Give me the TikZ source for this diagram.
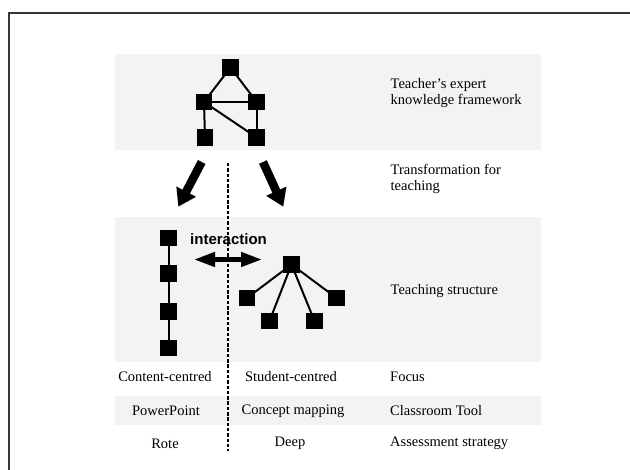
\documentclass[tikz,border=0pt]{standalone}
\usepackage{fontspec}
\setmainfont{Liberation Serif}
\newfontfamily\sansfam{Liberation Sans}
\usetikzlibrary{arrows.meta}
\definecolor{band}{RGB}{243,243,243}
\definecolor{framecol}{RGB}{55,55,55}
\begin{document}
\begin{tikzpicture}[x=1pt,y=-1pt,
  sq/.style={fill=black,minimum size=16.5pt,inner sep=0pt,outer sep=0pt},
  link/.style={line width=2pt},
  lbl/.style={font=\fontsize{14.5}{16}\selectfont,inner sep=0pt},
  lblw/.style={lbl,anchor=west,align=left},
  bigarrow/.style={line width=8.5pt,-{Triangle[width=21pt,length=17pt]}},
  dblarrow/.style={line width=4.5pt,{Triangle[width=14pt,length=21pt]}-{Triangle[width=14pt,length=21pt]}},
  divider/.style={line width=1.7pt,dash pattern=on 3.5pt off 1.8pt}]
\useasboundingbox (0,0) rectangle (630,470);
% bands
\fill[band] (115,54) rectangle (541,150);
\fill[band] (115,217) rectangle (541,362.5);
\fill[band] (115,396.5) rectangle (541,425);
% frame
\draw[framecol,line width=2pt] (9,472) -- (9,13) -- (632,13);
% top expert network
\node[sq] (t1) at (230.5,67.5) {};
\node[sq] (t2) at (204,102) {};
\node[sq] (t3) at (256.7,102) {};
\node[sq] (t4) at (205,137.5) {};
\node[sq] (t5) at (256.7,137.5) {};
\draw[link] (t1.center) -- (t2.center);
\draw[link] (t1.center) -- (t3.center);
\draw[link] (t2.center) -- (t3.center);
\draw[link] (t2.center) -- (t4.center);
\draw[link] (t3.center) -- (t5.center);
\draw[link] (t2.center) -- (t5.center);
\node[sq] at (t1) {};
\node[sq] at (t2) {};
\node[sq] at (t3) {};
\node[sq] at (t4) {};
\node[sq] at (t5) {};
% transformation arrows
\coordinate (la1) at (201.7,162);
\coordinate (la2) at (178.3,206.7);
\coordinate (ra1) at (263,162);
\coordinate (ra2) at (283.3,206.7);
\draw[bigarrow] (la1) -- (la2);
\draw[bigarrow] (ra1) -- (ra2);
% divider
\coordinate (d1) at (227.7,163);
\coordinate (d2) at (227.7,451);
\draw[divider] (d1) -- (d2);
% chain (content-centred)
\node[sq] (c1) at (168.5,238) {};
\node[sq] (c2) at (168.5,273.5) {};
\node[sq] (c3) at (168.5,311.5) {};
\node[sq] (c4) at (168.5,348) {};
\draw[link] (c1) -- (c2) -- (c3) -- (c4);
% tree (student-centred)
\node[sq] (r) at (291.5,264.5) {};
\node[sq] (k1) at (247,298) {};
\node[sq] (k2) at (269.5,321) {};
\node[sq] (k3) at (314.5,321) {};
\node[sq] (k4) at (336.5,298) {};
\draw[link] (r.center) -- (k1.center);
\draw[link] (r.center) -- (k2.center);
\draw[link] (r.center) -- (k3.center);
\draw[link] (r.center) -- (k4.center);
\node[sq] at (r) {};
\node[sq] at (k1) {};
\node[sq] at (k2) {};
\node[sq] at (k3) {};
\node[sq] at (k4) {};
% interaction
\node[inner sep=0pt,anchor=west,font=\sansfam\bfseries\fontsize{15}{17}\selectfont] (inter) at (190,239) {interaction};
\coordinate (ia1) at (194,259.5);
\coordinate (ia2) at (262,259.5);
\draw[dblarrow] (ia1) -- (ia2);
% right-hand labels
\node[lblw] (lab1) at (390.5,93) {Teacher’s expert\\knowledge framework};
\node[lblw] (lab2) at (390.5,179) {Transformation for\\teaching};
\node[lblw] (lab3) at (390.5,291.5) {Teaching structure};
% table rows
\node[lbl] (f1) at (165,377) {Content-centred};
\node[lbl] (f2) at (291,377) {Student-centred};
\node[lblw] (f3) at (390,377) {Focus};
\node[lbl] (g1) at (166,411) {PowerPoint};
\node[lbl] (g2) at (293,411) {Concept mapping};
\node[lblw] (g3) at (390,411) {Classroom Tool};
\node[lbl] (h1) at (165,443.5) {Rote};
\node[lbl] (h2) at (290,443.5) {Deep};
\node[lblw] (h3) at (390,443.5) {Assessment strategy};
\end{tikzpicture}
\end{document}
